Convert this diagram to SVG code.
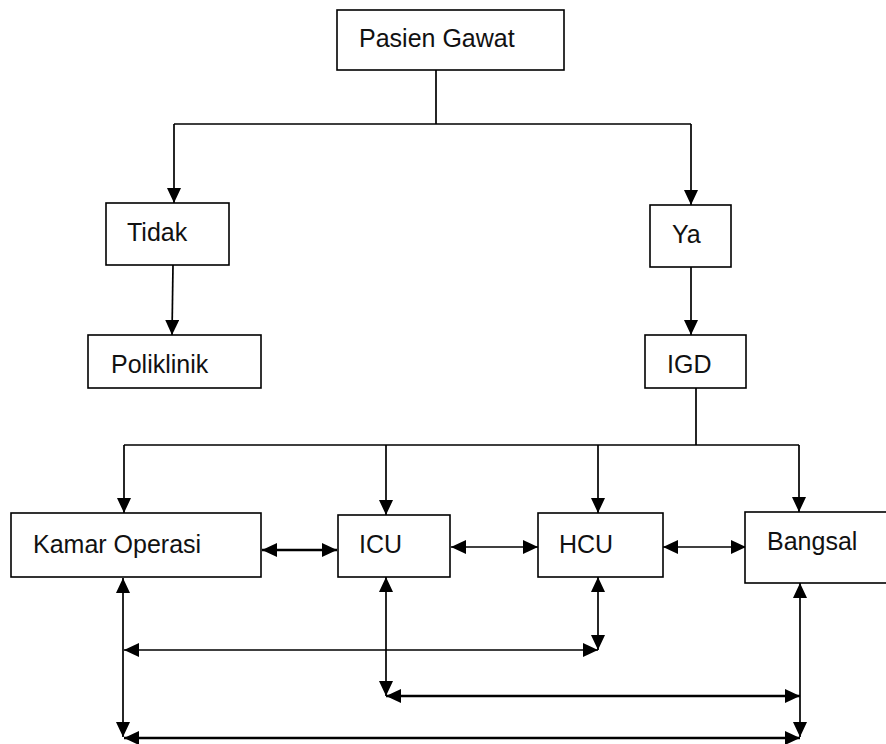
<svg xmlns="http://www.w3.org/2000/svg" width="886" height="744" viewBox="0 0 886 744">
<style>
.box{fill:#fff;stroke:#000;stroke-width:1.6}
.lbl{font-family:"Liberation Sans",Arial,sans-serif;font-size:25px;fill:#111}
.ln{fill:none;stroke:#000;stroke-width:1.7}
.a1{marker-end:url(#ah)}
.a2{marker-start:url(#ah);marker-end:url(#ah)}
.thick{stroke-width:2.4}
</style>
<defs>
<marker id="ah" viewBox="0 0 15 14" refX="15" refY="7" markerWidth="15" markerHeight="14" markerUnits="userSpaceOnUse" orient="auto-start-reverse">
<path d="M0,0 L15,7 L0,14 z" fill="#000"/>
</marker>
</defs>
<rect width="886" height="744" fill="#fff"/>
<g id="connectors">
<path class="ln" d="M436,70 V124 M174,124 H691"/>
<path class="ln a1" d="M174,124 V203"/>
<path class="ln a1" d="M691,124 V205"/>
<path class="ln a1" d="M173,265 L172,335"/>
<path class="ln a1" d="M691,267 V335"/>
<path class="ln" d="M696,388 V445 M124,445 H799"/>
<path class="ln a1" d="M124,445 V513"/>
<path class="ln a1" d="M386,445 V515"/>
<path class="ln a1" d="M598,445 V513"/>
<path class="ln a1" d="M799,445 V512"/>
<path class="ln a2 thick" d="M262,550 H337"/>
<path class="ln a2" d="M451,547 H538"/>
<path class="ln a2" d="M663,547 H746"/>
<path class="ln a2" d="M123,578 V737"/>
<path class="ln a2" d="M124,650 H598"/>
<path class="ln a2" d="M598,577 V650"/>
<path class="ln a2" d="M386,577 V696"/>
<path class="ln a2 thick" d="M386,696 H800"/>
<path class="ln a2" d="M800,583 V737"/>
<path class="ln a2 thick" d="M124,738 H800"/>
</g>
<g id="pasien-gawat"><rect class="box" x="337" y="10" width="227" height="60"/><text class="lbl" x="359" y="47">Pasien Gawat</text></g>
<g id="tidak"><rect class="box" x="106" y="203" width="123" height="62"/><text class="lbl" x="127" y="241">Tidak</text></g>
<g id="ya"><rect class="box" x="650" y="205" width="81" height="62"/><text class="lbl" x="672" y="243">Ya</text></g>
<g id="poliklinik"><rect class="box" x="88" y="335" width="173" height="53"/><text class="lbl" x="111" y="373">Poliklinik</text></g>
<g id="igd"><rect class="box" x="645" y="335" width="101" height="53"/><text class="lbl" x="667" y="373">IGD</text></g>
<g id="kamar-operasi"><rect class="box" x="11" y="513" width="250" height="64"/><text class="lbl" x="33" y="553">Kamar Operasi</text></g>
<g id="icu"><rect class="box" x="338" y="515" width="112" height="62"/><text class="lbl" x="359" y="553">ICU</text></g>
<g id="hcu"><rect class="box" x="538" y="513" width="125" height="64"/><text class="lbl" x="559" y="553">HCU</text></g>
<g id="bangsal"><rect class="box" x="745" y="512" width="150" height="71"/><text class="lbl" x="767" y="550">Bangsal</text></g>
</svg>
